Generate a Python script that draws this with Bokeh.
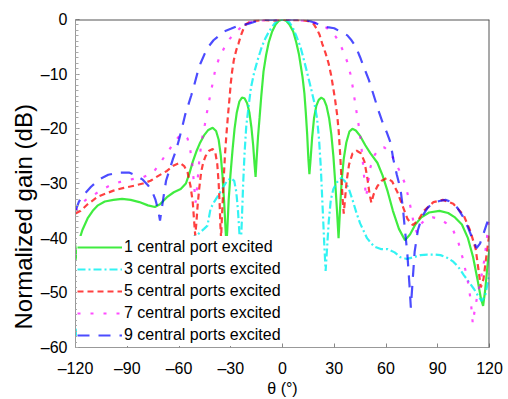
from bokeh.plotting import figure
from bokeh.models import FixedTicker, Span, Legend, LegendItem, Range1d, Title
from bokeh.embed import file_html
from bokeh.resources import INLINE

# ---- data ----
theta_1 = [-120, -118.5, -116, -113, -110, -107, -103, -98, -93, -88, -83, -78, -74, -71, -67, -63, -59, -56,
           -54, -52, -50, -48, -45.5, -43, -40.5, -38.5, -37, -35.8, -34.8, -33.8, -33, -32.5, -32, -31.2,
           -30.2, -29, -27.8, -26.5, -25, -23.5, -22, -20.5, -19.2, -18, -17, -16.2, -15.6, -15, -14.2,
           -13.3, -12.3, -11, -9.5, -8, -6, -4, -2, 0, 2, 4, 6.2, 8, 9.5, 11.6, 12.7, 13.5, 14.3, 15, 15.6,
           16.3, 17.2, 18.3, 19.6, 21, 22.5, 24, 25.5, 27, 28.3, 29.5, 30.6, 31.6, 32.5, 33.3, 34.3, 35.5,
           37, 38.8, 40.5, 42.5, 45, 48, 51, 55, 58, 61, 64, 67.5, 71, 74, 77, 80.5, 85, 91, 96, 100, 104,
           107.5, 110.5, 113, 115, 116.3, 117.5, 119, 120]
gain_1 = [-44, -41, -38.5, -36.4, -35, -34, -33.3, -33, -32.8, -33, -33.4, -34, -34.3, -33.8, -32.5, -31.6, -31, -30,
          -28.2, -26, -24.2, -22.7, -21.2, -20.2, -19.8, -20.4, -22, -24.8, -28.5, -33.5, -38.5, -41, -38.5, -33,
          -28.5, -24, -20, -17, -15, -14.3, -14.4, -15.3, -17, -19.8, -23, -26.5, -28.8, -25.5, -21.5,
          -18, -14, -9.5, -6.5, -4.2, -2.2, -0.9, -0.2, 0, -0.2, -0.9, -2.2, -4.2, -6.3, -10.5, -13.5, -17, -21, -25.5, -28.3,
          -25.5, -21.5, -18, -15.8, -14.7, -14.3, -14.6, -15.8, -18, -21, -25, -30, -35, -40, -35, -29.5, -25.5,
          -22.5, -20.5, -20, -20.3, -21.3, -23, -24.5, -26.2, -28.5, -31.5, -35, -38.3, -40.4, -39.3, -37.5, -36.2, -35.3, -35, -35.4, -36.2, -37.5,
          -40, -43.5, -47.5, -51, -52.4, -49.5, -44.5, -42]

theta_3 = [-120, -118, -115, -110, -103, -95, -85, -75, -65, -56, -49, -45.5, -43.5, -41.7, -39.5, -37.7, -35, -32.5,
           -30, -28, -26.8, -25.8, -25, -24.3, -23.6, -22.8, -22, -21, -19.7, -18.3, -16.5, -14.5, -12, -10, -8,
           -6, -4, -2, 0, 2, 4, 6, 8, 10.4, 12.5, 14.5, 16.3, 18.3, 20, 21.2, 22.2, 23.2, 24.2, 25, 25.8, 26.8,
           28, 29.5, 31.5, 34, 36, 38.5, 40.6, 43, 45, 49, 53, 57, 61, 65, 68.4, 72, 76, 80, 84, 88, 91.6, 95.5,
           99, 102, 105, 108, 111, 113.5, 115.5, 117.5, 119.4, 120]
gain_3 = [-58, -55.5, -52.5, -49.5, -47, -45.3, -44.3, -43.3, -42, -40.6, -39.3, -38.3, -37.7, -34.6, -33.3, -32.4, -31, -29.7,
          -29, -29.5, -31.5, -35, -39, -42.5, -37, -30, -24.5, -19.5, -16, -12.5, -9.8, -7.5, -5, -3.5, -2.3,
          -1.3, -0.5, -0.1, 0, -0.1, -0.5, -1.5, -3, -5, -7.5, -10, -12.3, -15, -18, -22, -27, -34, -41, -46, -42, -37,
          -33, -31, -29.8, -29, -29.5, -31, -33, -35.5, -37.3, -40, -41.5, -42, -42, -42.6, -43.5, -43.8, -43.5, -43.1, -43, -43, -43.1, -43.6,
          -44.3, -45.3, -46.7, -48, -49.3, -50.6, -51.5, -50.5, -47.5, -46.5]

theta_5 = [-120, -117, -113, -107, -98, -92, -86, -81, -76.5, -72, -67, -63, -59.5, -57, -55, -53.3, -52, -51.2,
           -50.6, -50, -49.2, -48.3, -47.2, -46, -44.6, -42.5, -40.5, -39, -37.8, -37, -36.4, -36, -35.6, -35.1,
           -34.5, -34, -33.3, -32.5, -31.6, -30.8, -30, -29.2, -28.2, -26.8, -25.5, -24, -22.5, -21, -18, -14.5,
           -10, -5, 0, 5, 10, 15, 18, 20, 21.5, 23, 25, 26.7, 28.2, 29.3, 30.5, 31.7, 32.6, 33.4, 34.1, 34.8,
           35.5, 36.2, 37.2, 38.6, 40.6, 43, 45.5, 47.5, 49.2, 50.5, 51.5, 52.8, 55, 57.5, 60.5, 63.5, 66.5,
           69.5, 72.5, 75.5, 78.5, 82, 87.5, 93, 99, 105, 109, 112, 113.5, 115, 116.5, 118.3, 120]
gain_5 = [-35.5, -35, -33.8, -32.4, -31.3, -30.8, -30.4, -30, -29.5, -28.6, -27.7, -26.7, -26.2, -26.8, -28, -30.5, -33.5, -37,
          -39.5, -37.5, -34, -31, -28, -26.2, -25, -24, -23.7, -24.2, -26.5, -30, -34, -37.7, -40, -36,
          -32, -28.6, -24.5, -21, -17.5, -14.7, -11.7, -9.5, -7.4, -5.6, -4.4, -2.8, -1.6, -0.8, -0.3, -0.2,
          -0.1, -0.2, 0, -0.1, -0.1, -0.3, -0.8, -1.8, -2.8, -4.4, -6.2, -8, -10.2, -12.3, -14.7, -17.5, -20.5, -24.5, -28.6, -32.5,
          -35.5, -33, -29.5, -26.5, -24.5, -24, -24.5, -26, -29, -32, -33.5, -32, -30.5, -29.5, -29, -29.6, -31.5,
          -34, -36.5, -37.6, -36.8, -35, -33.4, -33, -33.7, -35.8, -38.8, -42, -45.5, -49, -47.5, -43, -39]

theta_7 = [-120, -117, -114, -109, -104, -99, -94, -87, -80.6, -75, -71, -67, -63, -60, -57, -55, -53.5, -52.2,
           -51.2, -50.4, -49.6, -48.6, -47.4, -46.2, -45, -43.8, -42, -40.3, -39, -37, -35, -33, -30.5, -28,
           -24, -20, -15, -8, 0, 8, 16, 21, 25, 28, 31, 33.5, 35.5, 37.6, 39.4, 40.8, 42, 43.3, 44.5, 45.5,
           46.5, 47.5, 48.5, 49.5, 51, 53, 56, 59, 62, 65, 68, 71, 73, 75, 76.5, 78, 80, 83, 87, 91, 95, 99,
           102, 104.5, 106.5, 108, 109.3, 110.3, 111.5, 113, 115, 117, 118.5, 120]
gain_7 = [-35, -33.8, -33, -32, -31, -30.2, -29.7, -29.2, -28.8, -28, -26.3, -24.4, -22.6, -21.4, -21, -21.8, -23.8, -26.8,
          -30.5, -33.5, -31, -27, -23.5, -21, -19.2, -17, -14, -11.4, -9.2, -7.3, -6, -4.6, -3.5, -2.6,
          -1.4, -0.6, -0.2, -0.1, 0, -0.1, -0.3, -0.8, -1.4, -2.2, -3.2, -4.6, -6, -7.8, -10, -12.5, -15, -17.7, -20, -22.5,
          -25.8, -29.5, -32.5, -30, -27, -25, -23.6, -23.4, -24.2, -25.8, -27.8, -30, -32.5, -35.5, -38, -39, -37.5, -36.5, -36.2, -36.4, -37.3, -38.6,
          -40.8, -43.7, -46.5, -48.8, -52, -55.6, -53, -50.5, -47.5, -44, -40, -36]

theta_9 = [-120, -118, -115, -111, -106, -101, -95, -89, -84.5, -81, -78, -75.5, -73.6, -72, -71, -70.2, -69, -67.5,
           -65.5, -63.5, -62, -60, -58, -56.5, -55, -53, -51.6, -49.5, -47.5, -45, -43, -40, -37, -34, -30, -27,
           -23, -20, -16, -11.6, 0, 8, 13, 17, 21, 26, 30, 33.5, 37.6, 40, 42.5, 45, 47.5, 50, 52, 54, 56, 58,
           60.5, 62.6, 64.2, 66.2, 68.4, 69.8, 71, 72.4, 73.6, 74.4, 75.4, 76.6, 78.5, 81, 84, 87, 91, 94.5, 98,
           101.5, 104.5, 107.5, 110, 112.5, 114.5, 116.5, 118.5, 120]
gain_9 = [-35, -33.3, -32, -30.6, -29.2, -28.4, -28, -28, -28.6, -29.3, -30.3, -31.5, -33, -35, -36.8, -35, -32.5, -29.5,
          -27.5, -25.5, -24.2, -22, -19.5, -17.5, -16, -14, -12.5, -10, -8, -6.2, -5, -3.8, -3, -2.2, -1.7, -1.3,
          -1, -0.8, -0.4, -0.1, 0, 0, -0.1, -0.4, -0.9, -1.4, -1.6, -2.2, -2.9, -3.8, -5, -6.9, -9, -11, -13, -15, -17, -18.8,
          -20.7, -22.5, -25.5, -28.3, -31, -34.5, -38.5, -43, -48.5, -52.7, -48, -42.5, -38.5, -36, -34.5, -33.6, -33.2, -33, -33.4,
          -34.5, -36, -38, -40, -41.8, -41, -39.2, -37.3, -36]

series_labels = ["1 central port excited", "3 central ports excited", "5 central ports excited",
                 "7 central ports excited", "9 central ports excited"]
x_ticks = [-120, -90, -60, -30, 0, 30, 60, 90, 120]
y_ticks = [-60, -50, -40, -30, -20, -10, 0]
y_title = "Normalized gain (dB)"
x_title = "\u03b8 (\u00b0)"

FONT = "Liberation Sans"

p = figure(width=508, height=399, output_backend="svg", toolbar_location=None,
           x_range=Range1d(-120, 120), y_range=Range1d(-60, 0),
           min_border_left=75, min_border_right=19, min_border_top=19, min_border_bottom=49)
p.background_fill_color = "white"
p.border_fill_color = "white"
p.outline_line_color = None
p.xgrid.visible = False
p.ygrid.visible = False

styles = [
    dict(color="#00e600", dash="solid", alpha=0.75),
    dict(color="#00f0f0", dash="8 3 2 3", alpha=0.8),
    dict(color="#ff0000", dash="6 4", alpha=0.75),
    dict(color="#ff00ff", dash="3 10", alpha=0.7),
    dict(color="#0000ff", dash="12 9", alpha=0.7),
]
data = [(theta_1, gain_1), (theta_3, gain_3), (theta_5, gain_5), (theta_7, gain_7), (theta_9, gain_9)]

items = []
for (tx, gy), st, lab in zip(data, styles, series_labels):
    r = p.line(tx, gy, line_color=st["color"], line_dash=st["dash"], line_width=2.2, line_alpha=st["alpha"])
    items.append(LegendItem(label=lab, renderers=[r]))

# top and right frame borders
p.add_layout(Span(location=0, dimension="width", line_color="#555555", line_width=2))
p.add_layout(Span(location=120, dimension="height", line_color="#555555", line_width=2))

# axes
for ax in (p.xaxis[0], p.yaxis[0]):
    ax.axis_line_color = "#999999"
    ax.major_tick_line_color = "#888888"
    ax.major_tick_in = 4
    ax.major_tick_out = 0
    ax.major_label_text_font = FONT
    ax.major_label_text_font_size = "16px"
    ax.major_label_text_color = "black"
    ax.axis_label_text_font = FONT
    ax.axis_label_text_font_style = "normal"
    ax.axis_label_text_color = "black"

p.xaxis.ticker = FixedTicker(ticks=x_ticks)
p.xaxis.major_label_overrides = {t: (str(t) if t >= 0 else "\u2013" + str(-t)) for t in x_ticks}
p.xaxis.minor_tick_line_color = None
p.xaxis.axis_label = x_title
p.xaxis.axis_label_text_font_size = "16px"
p.xaxis.major_label_standoff = 12
p.xaxis.axis_label_standoff = 0

p.yaxis.ticker = FixedTicker(ticks=y_ticks, minor_ticks=list(range(-60, 1)))
p.yaxis.major_label_overrides = {t: (str(t) if t >= 0 else "\u2013" + str(-t)) for t in y_ticks}
p.yaxis.minor_tick_line_color = "#aaaaaa"
p.yaxis.minor_tick_in = 3
p.yaxis.minor_tick_out = 0
p.yaxis.major_label_standoff = 8

# y-axis title, starting a little above the frame bottom as in the reference
ytitle = Title(text=y_title, align="left", offset=18, standoff=2,
               text_font=FONT, text_font_size="24px", text_font_style="normal", text_color="black")
p.add_layout(ytitle, "left")

legend = Legend(items=items, location=(2, 1), orientation="vertical")
legend.label_text_font = FONT
legend.label_text_font_size = "16px"
legend.label_text_color = "black"
legend.glyph_width = 45
legend.glyph_height = 22
legend.label_height = 22
legend.spacing = 0
legend.padding = 1
legend.margin = 0
legend.label_standoff = 2
legend.background_fill_color = "white"
legend.background_fill_alpha = 1.0
legend.border_line_color = None
p.add_layout(legend, "center")

open("out.html", "w").write(file_html(p, INLINE))
